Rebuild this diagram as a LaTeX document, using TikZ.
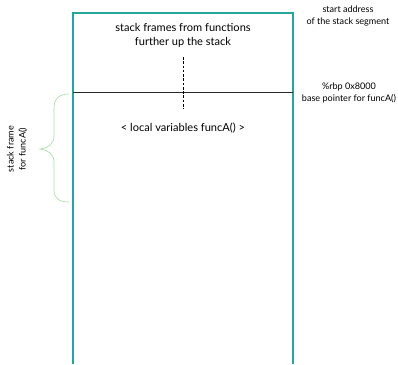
\documentclass[tikz,border=0pt]{standalone}
\usepackage{fontspec}
\setmainfont{Lato}
\begin{document}
\begin{tikzpicture}[x=0.75pt,y=0.75pt,yscale=-1,xscale=1]
%uncomment if require: \path (0,364); %set diagram left start at 0, and has height of 364
\useasboundingbox (0,0) rectangle (398,364);

%Shape: Open Rectangle [id:stackseg]
    \draw  [color={rgb, 255:red, 38; green, 166; blue, 154 }  ,line width=0.85]  (73,364) -- (73,13) -- (293,13) -- (293,364) ;
%Straight Lines [id:rbpline]
    \draw  [color={rgb, 255:red, 40; green, 40; blue, 40 }  ,line width=0.6]  (73,92) -- (293,92) ;
%Straight Lines [id:upline]
    \draw  [dash pattern={on 2pt off 1.2pt}][line width=0.7]  (183,57) -- (183,109) ;
%Shape: Brace [id:framebrace]
    \draw  [color={rgb, 255:red, 170; green, 220; blue, 170 }  ,line width=0.5]  (69,94) .. controls (60,94) and (54,98) .. (54,108) -- (54,136) .. controls (54,144) and (48,148) .. (40,149) .. controls (48,150) and (54,154) .. (54,162) -- (54,190) .. controls (54,199) and (60,202) .. (69,202) ;

% Text Node
    \draw (183,35) node [inner sep=0.75pt]  [font=\fontsize{8.3}{10.5}\selectfont] [align=center] (upper) {stack frames from functions\\further up the stack};
% Text Node
    \draw (183,128) node [inner sep=0.75pt]  [font=\fontsize{8.3}{10.5}\selectfont] [align=center] (locals) {< local variables funcA() >};
% Text Node
    \draw (348,16) node [inner sep=0.75pt]  [font=\fontsize{6.8}{9}\selectfont] [align=center] (startaddr) {start address\\of the stack segment};
% Text Node
    \draw (349,93) node [inner sep=0.75pt]  [font=\fontsize{6.8}{9}\selectfont] [align=center] (rbp) {\%rbp 0x8000\\base pointer for funcA()};
% Text Node
    \draw (17,149) node [inner sep=0.75pt]  [font=\fontsize{6.8}{9}\selectfont] [rotate=90] [align=center] (framelbl) {stack frame\\for funcA()};

\end{tikzpicture}
\end{document}
